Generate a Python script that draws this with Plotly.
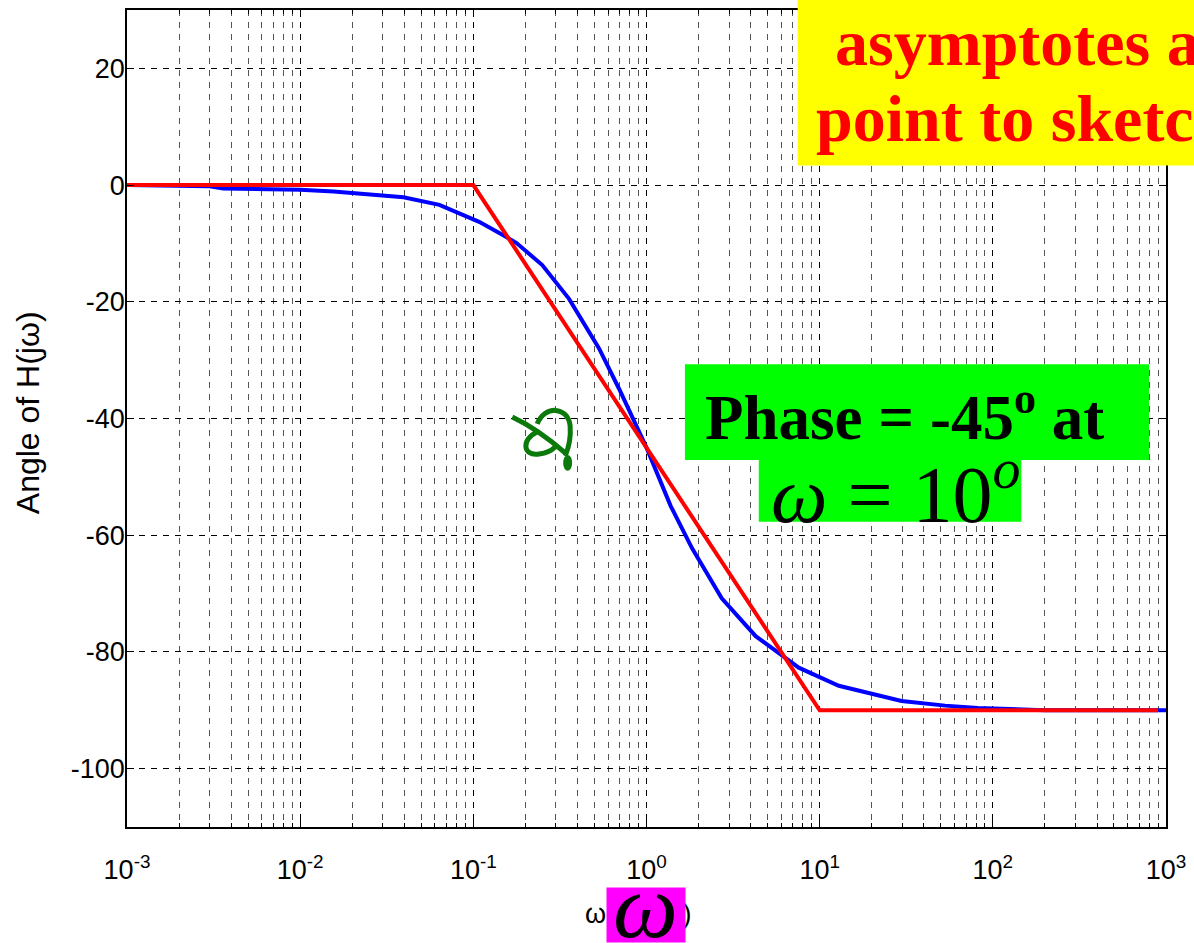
import plotly.graph_objects as go

# ---------------- data ----------------
freq_exact = [0.001, 0.003, 0.0036, 0.01, 0.0156, 0.0203, 0.0287, 0.0395, 0.0637, 0.083,
              0.108, 0.149, 0.177, 0.25, 0.357, 0.532, 0.694, 1.0, 1.38, 1.83,
              2.72, 4.27, 7.57, 12.9, 29.7, 53, 82, 200, 1000]
phase_exact = [0, -0.2, -0.6, -0.8, -1.1, -1.4, -1.8, -2.1, -3.4, -4.9,
               -6.3, -8.6, -9.9, -13.7, -19.5, -28, -34.9, -45, -55, -62.2,
               -70.8, -77.3, -82.7, -85.8, -88.4, -89.2, -89.6, -90, -90]

freq_asym = [0.001, 0.1, 10, 900]
phase_asym = [0, 0, -90, -90]

x_tickvals = [1e-3, 1e-2, 1e-1, 1, 10, 100, 1000]
x_ticktext = ["10<sup>-3</sup>", "10<sup>-2</sup>", "10<sup>-1</sup>", "10<sup>0</sup>",
              "10<sup>1</sup>", "10<sup>2</sup>", "10<sup>3</sup>"]
y_tickvals = [-100, -80, -60, -40, -20, 0, 20]
y_ticktext = ["-100", "-80", "-60", "-40", "-20", "0", "20"]

# ---------------- layout geometry ----------------
W, H = 1194, 943
L, R, T, B = 127, 26, 8, 116
PW = W - L - R
PH = H - T - B


def px(x):
    return (x - L) / PW


def py(y):
    return (H - B - y) / PH


fig = go.Figure()
fig.add_trace(go.Scatter(x=freq_exact, y=phase_exact, mode="lines",
                         line=dict(color="#0000FF", width=4), showlegend=False))
fig.add_trace(go.Scatter(x=freq_asym, y=phase_asym, mode="lines",
                         line=dict(color="#FF0000", width=4), showlegend=False))

tickfont = dict(family="Liberation Sans, Arial, sans-serif", size=27, color="black")

fig.update_xaxes(type="log", range=[-3, 3], tickmode="array", tickvals=x_tickvals,
                 ticktext=x_ticktext, ticks="inside", ticklen=7, tickcolor="black",
                 showline=True, linecolor="black", linewidth=1.5, mirror="ticks",
                 showgrid=True, gridcolor="black", gridwidth=1, griddash="6px,6px",
                 zeroline=False, tickfont=tickfont, ticklabelstandoff=18,
                 minor=dict(dtick="D1", ticks="inside", ticklen=4, tickcolor="black",
                            showgrid=True, gridcolor="#555555", gridwidth=1,
                            griddash="6px,6px"))
fig.update_yaxes(range=[-110, 30], tickmode="array", tickvals=y_tickvals,
                 ticktext=y_ticktext, ticks="inside", ticklen=7, tickcolor="black",
                 showline=True, linecolor="black", linewidth=1.5, mirror="ticks",
                 showgrid=True, gridcolor="black", gridwidth=1, griddash="6px,6px",
                 zeroline=False, tickfont=tickfont, ticklabelstandoff=-5)

shapes = []
# yellow box
shapes.append(dict(type="rect", xref="paper", yref="paper", x0=px(799), x1=px(1200),
                   y0=py(164), y1=py(-2), fillcolor="#FFFF00", line=dict(width=0),
                   layer="above"))
# green boxes
shapes.append(dict(type="rect", xref="paper", yref="paper", x0=px(686), x1=px(1151),
                   y0=py(459), y1=py(363), fillcolor="#00FF00", line=dict(width=0),
                   layer="above"))
shapes.append(dict(type="rect", xref="paper", yref="paper", x0=px(760), x1=px(1023),
                   y0=py(521), y1=py(459), fillcolor="#00FF00", line=dict(width=0),
                   layer="above"))


def path(cmds):
    out = []
    for c in cmds:
        if isinstance(c, str):
            out.append(c)
        else:
            out.append("%.5f,%.5f" % (px(c[0]), py(c[1])))
    return " ".join(out)


squiggle_col = "#0B7A0B"
for p in [
    ["M", (513, 416), "C", (530, 424), (550, 438), (566, 452)],
    ["M", (538, 423), "C", (545, 404), (569, 405), (571, 425), "C", (572, 438), (569, 448), (566, 455)],
    ["M", (538, 431), "C", (522, 438), (523, 456), (540, 453), "C", (548, 452), (553, 449), (556, 446)],
]:
    shapes.append(dict(type="path", xref="paper", yref="paper", path=path(p),
                       line=dict(color=squiggle_col, width=5), layer="above"))
shapes.append(dict(type="circle", xref="paper", yref="paper", x0=px(564), x1=px(573),
                   y0=py(470), y1=py(454), fillcolor=squiggle_col,
                   line=dict(width=0), layer="above"))

annotations = []


def ann(text, x, y, size, family, color="black", xanchor="left", **kw):
    annotations.append(dict(text=text, x=px(x), y=py(y), xref="paper", yref="paper",
                            xanchor=xanchor, yanchor="middle", showarrow=False,
                            font=dict(size=size, family=family, color=color), **kw))


serif = "Liberation Serif, Times New Roman, serif"
sans = "Liberation Sans, Arial, sans-serif"

ann("<b>asymptotes and</b>", 834, 41, 66, serif, color="#FF0000")
ann("<b>point to sketch</b>", 815, 117, 66, serif, color="#FF0000")
ann("<b>Phase = -45<sup>o</sup> at</b>", 704, 412, 63, serif)
ann("<i>ω</i> = 10<sup><i>o</i></sup>", 770, 488, 80, serif)
# y axis title
ann("Angle of H(jω)", 28, 412, 32, sans, xanchor="center", textangle=-90)
# x axis title (mostly hidden by the magenta box)
ann("ω (rad/s)", 695, 914, 27, sans, xanchor="right")
# magenta box
annotations.append(dict(text="", x=px(607), y=py(943), xref="paper", yref="paper",
                        xanchor="left", yanchor="bottom", showarrow=False,
                        width=78, height=54, bgcolor="#FF00FF", borderpad=0))
ann("<i>ω</i>", 646, 906, 92, serif, xanchor="center")

fig.update_layout(width=W, height=H, autosize=False,
                  margin=dict(l=L, r=R, t=T, b=B, pad=0),
                  paper_bgcolor="white", plot_bgcolor="white",
                  shapes=shapes, annotations=annotations, showlegend=False)

fig.write_html("out.html")
